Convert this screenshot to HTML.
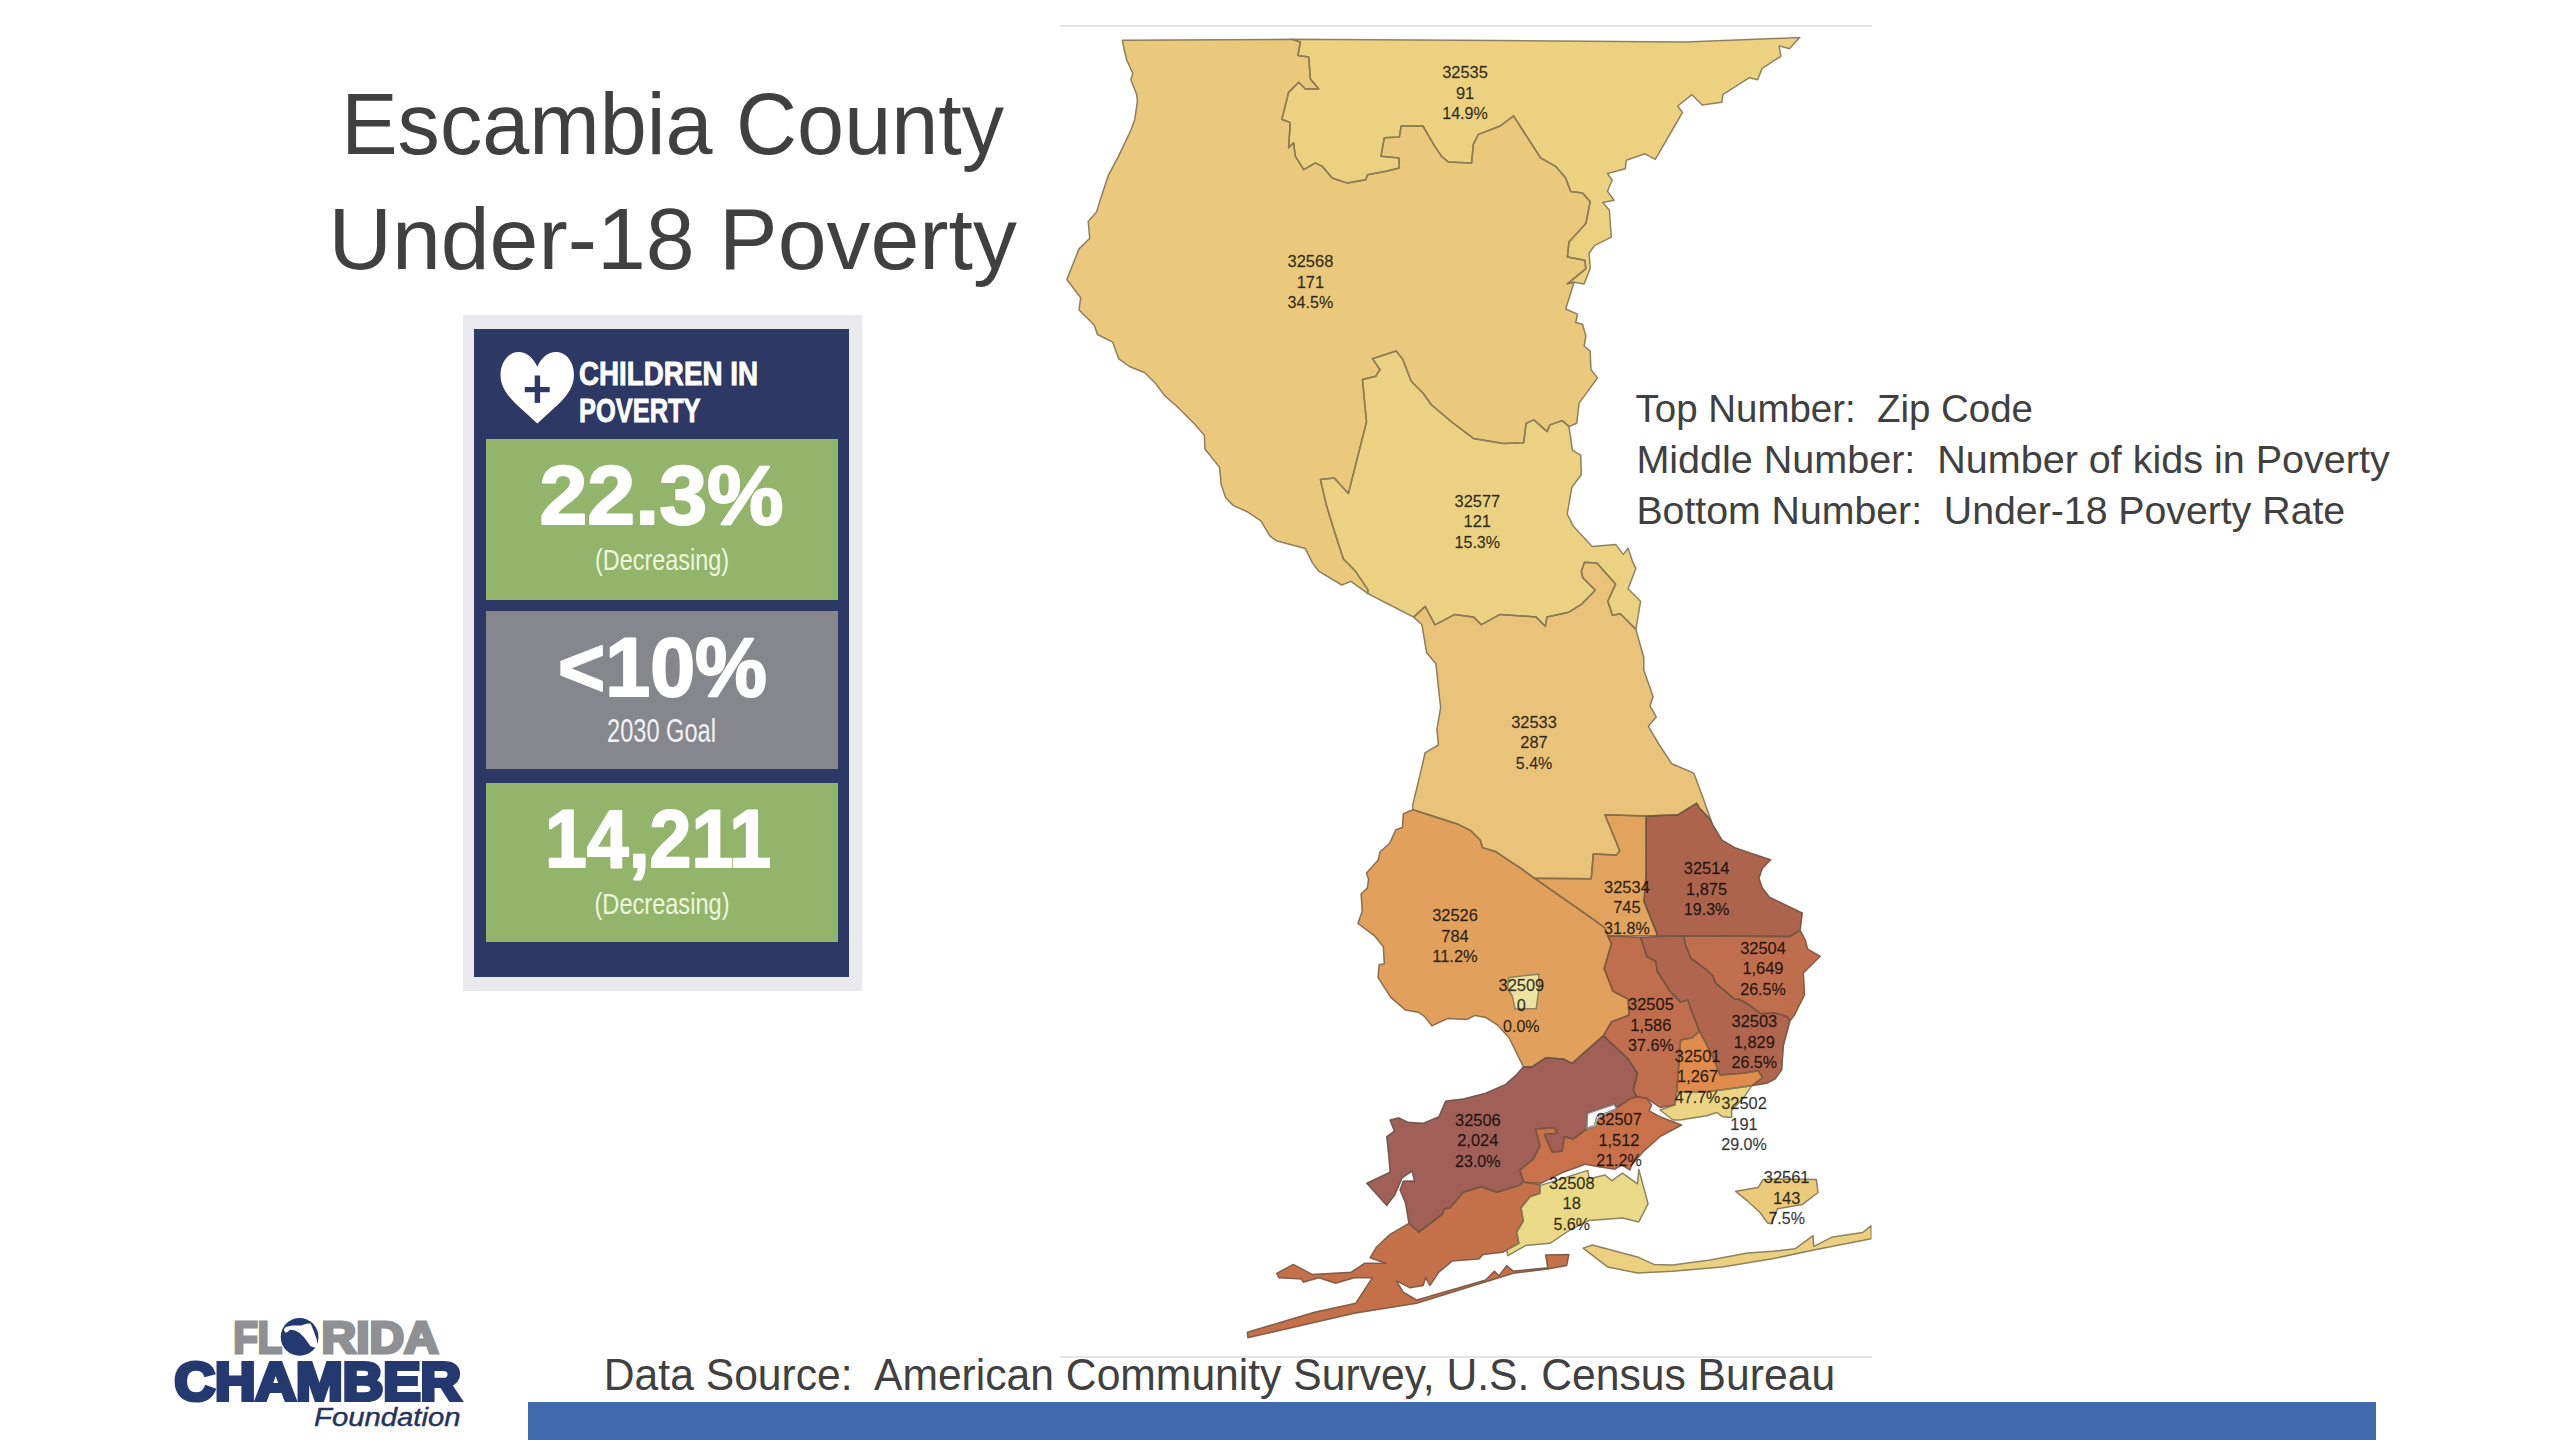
<!DOCTYPE html>
<html lang="en">
<head>
<meta charset="utf-8">
<title>Escambia County Under-18 Poverty</title>
<style>
  html, body { margin: 0; padding: 0; background: #ffffff; }
  body { width: 2560px; height: 1440px; position: relative; overflow: hidden;
         font-family: "Liberation Sans", sans-serif; }
  .abs { position: absolute; }
  .panel-outer { left: 463px; top: 315px; width: 399px; height: 676px; background: #eaeaee; }
  .panel-navy  { left: 474px; top: 329px; width: 375px; height: 648px; background: #2e3864; }
  .box { left: 486px; width: 352px; }
  .box.g1 { top: 439px; height: 161px; background: #92b56b; }
  .box.gr { top: 611px; height: 158px; background: #85878c; }
  .box.g2 { top: 783px; height: 159px; background: #92b56b; }
  .bluebar { left: 528px; top: 1402px; width: 1848px; height: 38px; background: #3f6bae; }
  .mapline { left: 1060px; width: 812px; height: 2px; background: #e4e4e4; }
  svg { position: absolute; left: 0; top: 0; }
  svg text { font-family: "Liberation Sans", sans-serif; }
  .maplabels text { font-size: 16.3px; fill: #000; fill-opacity: 0.78; stroke: #000; stroke-opacity: 0.5; stroke-width: 0.3px; }
  .map .fills polygon { stroke-width: 0.8; stroke-linejoin: round; }
  .map .outlines polygon { fill: none; stroke: #4b4437; stroke-width: 1.5; stroke-linejoin: round; }
</style>
</head>
<body>
<div class="abs panel-outer"></div>
<div class="abs panel-navy"></div>
<div class="abs box g1"></div>
<div class="abs box gr"></div>
<div class="abs box g2"></div>
<div class="abs mapline" style="top:25px"></div>
<div class="abs mapline" style="top:1356px"></div>
<div class="abs bluebar"></div>

<svg width="2560" height="1440" viewBox="0 0 2560 1440">
  <!-- title -->
  <g fill="#404040" font-size="88">
    <text x="341.2" y="154" textLength="662.8" lengthAdjust="spacingAndGlyphs">Escambia County</text>
    <text x="328.5" y="268.9" textLength="688.3" lengthAdjust="spacingAndGlyphs">Under-18 Poverty</text>
  </g>

  <!-- legend text -->
  <g fill="#404040" font-size="39.3">
    <text x="1635.6" y="422.3" textLength="397.4" lengthAdjust="spacingAndGlyphs" xml:space="preserve">Top Number:  Zip Code</text>
    <text x="1636.4" y="473.3" textLength="753.3" lengthAdjust="spacingAndGlyphs" xml:space="preserve">Middle Number:  Number of kids in Poverty</text>
    <text x="1636.4" y="524.4" textLength="708.8" lengthAdjust="spacingAndGlyphs" xml:space="preserve">Bottom Number:  Under-18 Poverty Rate</text>
  </g>

  <!-- footer source -->
  <text x="603.8" y="1389.6" font-size="44.5" fill="#404040" textLength="1231.3" lengthAdjust="spacingAndGlyphs" xml:space="preserve">Data Source:  American Community Survey, U.S. Census Bureau</text>

  <!-- panel header -->
  <g>
    <path d="M537.3,366.8 C541,358 548,352.1 556,352.1 C566,352.1 574,362 574,375 C574,388 565,399 552,410 L537.3,423.4 L522.6,410 C509.6,399 500.5,388 500.5,375 C500.5,362 508.5,352.1 518.5,352.1 C526.5,352.1 533.5,358 537.3,366.8 Z" fill="#ffffff"/>
    <rect x="524.8" y="387" width="24.9" height="5.2" fill="#2e3864"/>
    <rect x="534.7" y="375.5" width="5.4" height="27.4" fill="#2e3864"/>
    <g fill="#ffffff" font-weight="bold" font-size="33.2" stroke="#ffffff" stroke-width="0.9">
      <text x="579" y="384.8" textLength="179" lengthAdjust="spacingAndGlyphs">CHILDREN IN</text>
      <text x="579" y="422.4" textLength="121.5" lengthAdjust="spacingAndGlyphs">POVERTY</text>
    </g>
  </g>

  <!-- panel values -->
  <g fill="#ffffff" font-weight="bold" stroke="#ffffff" stroke-width="2" stroke-linejoin="round">
    <text x="539.5" y="524.3" font-size="83" textLength="244" lengthAdjust="spacingAndGlyphs">22.3%</text>
    <text x="558" y="695.8" font-size="83" textLength="209" lengthAdjust="spacingAndGlyphs">&lt;10%</text>
    <text x="545" y="867" font-size="81" textLength="226" lengthAdjust="spacingAndGlyphs">14,211</text>
  </g>
  <g fill="#eef6dc" font-size="29.5">
    <text x="595" y="570" textLength="134" lengthAdjust="spacingAndGlyphs">(Decreasing)</text>
    <text x="607" y="742.2" font-size="32.5" fill="#f2f2f4" textLength="109" lengthAdjust="spacingAndGlyphs">2030 Goal</text>
    <text x="594.5" y="914.4" textLength="135" lengthAdjust="spacingAndGlyphs">(Decreasing)</text>
  </g>

  <!-- map -->
  <defs><clipPath id="mapclip"><rect x="1060" y="25" width="811.5" height="1332"/></clipPath></defs>
  <g class="map" clip-path="url(#mapclip)">
<g class="fills">
<polygon points="1292.0,39.3 1500.0,40.5 1685.0,42.0 1799.8,37.6 1789.4,48.8 1779.1,45.9 1781.0,56.3 1762.2,68.4 1757.6,79.7 1749.1,77.8 1722.9,94.7 1721.9,102.2 1702.2,105.0 1691.9,94.7 1677.8,106.0 1682.5,112.5 1655.3,159.4 1645.0,153.8 1626.3,160.3 1625.3,168.8 1607.5,173.5 1612.2,180.0 1607.5,191.3 1614.1,200.3 1602.8,202.5 1609.4,210.0 1611.3,237.2 1594.4,245.7 1589.1,253.2 1590.3,268.2 1584.1,284.1 1574.1,282.2 1567.4,283.8 1585.9,268.7 1584.8,260.3 1567.4,257.0 1569.0,241.9 1585.9,223.4 1590.2,201.5 1582.5,193.1 1570.7,191.5 1565.7,178.0 1555.6,166.3 1540.5,157.9 1513.6,115.9 1500.2,126.0 1478.4,134.4 1473.3,144.4 1471.6,162.9 1448.1,161.9 1441.4,156.2 1434.7,146.1 1422.9,126.0 1401.1,126.0 1399.4,137.0 1384.3,137.7 1381.0,156.2 1398.8,157.9 1399.4,168.0 1386.0,171.3 1367.5,174.7 1365.8,179.7 1347.4,183.1 1332.2,178.0 1322.2,166.3 1315.4,162.9 1303.7,169.6 1295.3,156.2 1293.6,142.8 1288.6,147.8 1290.3,122.6 1281.9,119.2 1288.6,92.4 1298.7,82.3 1305.4,89.0 1318.8,89.0 1310.4,78.9 1308.7,57.1 1298.0,55.4 1300.3,42.0 1292.0,39.3" fill="#EDD181" stroke="#EDD181"/>
<polygon points="1122.3,40.3 1124.2,49.8 1126.8,60.3 1132.8,73.5 1130.8,79.5 1136.7,94.6 1137.4,101.2 1134.7,119.7 1130.8,130.3 1118.3,156.6 1108.4,175.1 1101.8,194.9 1096.5,212.1 1088.2,221.4 1089.7,238.2 1079.0,248.9 1066.8,279.5 1080.6,297.8 1079.0,310.0 1094.3,325.3 1097.4,334.5 1112.6,342.1 1118.8,358.9 1129.4,366.5 1144.7,372.7 1155.4,383.3 1164.6,395.6 1178.3,407.8 1193.6,423.1 1204.3,435.3 1204.9,449.0 1219.6,467.4 1221.1,484.2 1225.7,497.9 1233.3,505.6 1247.1,511.7 1260.8,520.9 1270.0,536.1 1276.1,540.7 1305.2,548.4 1312.8,563.6 1318.9,571.3 1341.8,585.0 1351.0,581.4 1367.8,593.6 1367.8,589.6 1355.6,571.3 1343.4,559.0 1334.0,530.0 1326.5,505.6 1320.4,479.6 1334.2,478.1 1348.4,493.4 1366.5,422.0 1362.5,379.6 1375.9,376.2 1379.9,369.5 1372.5,358.7 1396.1,351.0 1402.8,359.4 1411.2,381.3 1422.9,393.0 1431.3,404.8 1453.2,423.2 1473.3,438.4 1503.5,443.4 1523.7,442.7 1526.1,423.2 1533.8,419.9 1547.2,431.6 1549.9,424.9 1562.3,420.6 1569.0,426.6 1576.8,423.2 1579.1,403.1 1597.6,377.9 1590.9,369.5 1590.2,351.0 1584.2,346.0 1585.9,335.9 1582.5,324.2 1575.8,322.5 1577.5,314.1 1565.7,309.0 1574.1,282.2 1567.4,283.8 1585.9,268.7 1584.8,260.3 1567.4,257.0 1569.0,241.9 1585.9,223.4 1590.2,201.5 1582.5,193.1 1570.7,191.5 1565.7,178.0 1555.6,166.3 1540.5,157.9 1513.6,115.9 1500.2,126.0 1478.4,134.4 1473.3,144.4 1471.6,162.9 1448.1,161.9 1441.4,156.2 1434.7,146.1 1422.9,126.0 1401.1,126.0 1399.4,137.0 1384.3,137.7 1381.0,156.2 1398.8,157.9 1399.4,168.0 1386.0,171.3 1367.5,174.7 1365.8,179.7 1347.4,183.1 1332.2,178.0 1322.2,166.3 1315.4,162.9 1303.7,169.6 1295.3,156.2 1293.6,142.8 1288.6,147.8 1290.3,122.6 1281.9,119.2 1288.6,92.4 1298.7,82.3 1305.4,89.0 1318.8,89.0 1310.4,78.9 1308.7,57.1 1298.0,55.4 1300.3,42.0 1292.0,39.3" fill="#EAC87C" stroke="#EAC87C"/>
<polygon points="1569.0,426.6 1562.3,420.6 1549.9,424.9 1547.2,431.6 1533.8,419.9 1526.1,423.2 1523.7,442.7 1503.5,443.4 1473.3,438.4 1453.2,423.2 1431.3,404.8 1422.9,393.0 1411.2,381.3 1402.8,359.4 1396.1,351.0 1372.5,358.7 1379.9,369.5 1375.9,376.2 1362.5,379.6 1366.5,422.0 1348.4,493.4 1334.2,478.1 1320.4,479.6 1326.5,505.6 1334.0,530.0 1343.4,559.0 1355.6,571.3 1367.8,589.6 1367.8,593.6 1390.0,605.0 1413.6,617.1 1425.2,606.4 1435.0,624.8 1454.7,614.4 1473.4,616.9 1481.3,624.7 1500.0,614.4 1535.9,616.9 1545.3,626.3 1546.9,616.9 1568.8,612.2 1581.3,604.4 1595.3,590.3 1582.8,577.8 1581.3,571.6 1584.4,562.2 1596.9,563.1 1615.6,584.1 1607.8,601.3 1612.5,615.3 1620.3,613.8 1635.9,629.4 1640.6,601.3 1628.1,588.8 1635.9,568.4 1632.8,562.2 1628.1,548.1 1623.4,554.4 1615.6,544.4 1592.2,546.6 1573.4,526.3 1567.2,513.8 1571.9,487.2 1581.3,474.7 1580.8,455.2 1572.4,450.1 1569.0,426.6" fill="#EBD282" stroke="#EBD282"/>
<polygon points="1413.6,617.1 1425.2,606.4 1435.0,624.8 1454.7,614.4 1473.4,616.9 1481.3,624.7 1500.0,614.4 1535.9,616.9 1545.3,626.3 1546.9,616.9 1568.8,612.2 1581.3,604.4 1595.3,590.3 1582.8,577.8 1581.3,571.6 1584.4,562.2 1596.9,563.1 1615.6,584.1 1607.8,601.3 1612.5,615.3 1620.3,613.8 1635.9,629.4 1643.8,657.5 1643.8,670.0 1653.1,696.6 1650.0,705.9 1656.3,716.9 1648.4,726.3 1659.4,745.0 1671.9,763.8 1693.8,773.1 1703.1,798.1 1710.9,820.0 1698.9,807.4 1696.8,803.2 1686.2,809.6 1677.8,814.8 1646.1,815.9 1604.9,814.8 1619.7,850.7 1616.5,854.9 1593.3,853.9 1591.2,878.8 1534.2,878.2 1521.5,868.7 1506.8,859.2 1496.2,851.8 1482.5,847.6 1480.4,840.2 1470.9,830.7 1458.2,824.3 1428.7,814.8 1412.8,809.6 1412.5,805.9 1421.9,766.9 1425.0,752.8 1438.4,745.0 1436.9,729.4 1440.6,707.5 1435.9,663.8 1426.6,652.8 1421.9,624.7 1413.6,617.1" fill="#EAC37A" stroke="#EAC37A"/>
<polygon points="1412.8,809.6 1403.3,813.8 1402.3,827.5 1395.9,829.6 1389.6,843.3 1380.1,851.8 1378.0,860.2 1366.4,872.9 1368.5,879.2 1367.4,887.7 1361.1,894.0 1362.2,910.9 1357.9,923.5 1374.8,936.2 1383.3,946.8 1384.3,963.7 1379.1,964.7 1378.0,977.4 1383.3,985.8 1390.7,997.4 1405.4,1010.1 1418.1,1012.2 1424.4,1016.4 1431.8,1025.9 1447.7,1018.5 1466.7,1019.6 1475.1,1015.4 1485.7,1017.5 1497.3,1024.9 1508.9,1037.5 1523.3,1066.7 1532.2,1066.7 1545.6,1057.8 1563.3,1058.9 1572.2,1063.3 1603.3,1035.6 1611.4,1021.8 1628.9,1015.2 1628.1,999.2 1612.8,991.1 1604.1,968.5 1611.4,943.8 1607.7,935.7 1604.9,927.8 1593.3,919.3 1572.2,904.6 1551.1,889.8 1534.2,878.2 1521.5,868.7 1506.8,859.2 1496.2,851.8 1482.5,847.6 1480.4,840.2 1470.9,830.7 1458.2,824.3 1428.7,814.8 1412.8,809.6" fill="#E1A05C" stroke="#E1A05C"/>
<polygon points="1534.2,878.2 1591.2,878.8 1593.3,853.9 1616.5,854.9 1619.7,850.7 1604.9,814.8 1646.1,815.9 1646.1,875.0 1644.0,901.4 1656.7,933.1 1656.7,935.8 1644.0,935.8 1607.7,935.7 1604.9,927.8 1593.3,919.3 1572.2,904.6 1551.1,889.8 1534.2,878.2" fill="#E1A35E" stroke="#E1A35E"/>
<polygon points="1646.1,815.9 1677.8,814.8 1686.2,809.6 1696.8,803.2 1698.9,807.4 1710.9,820.0 1712.6,824.3 1722.1,840.2 1734.8,847.6 1749.5,852.8 1770.7,859.8 1762.2,868.7 1759.0,878.2 1762.2,887.7 1769.6,897.2 1802.3,913.0 1800.2,929.9 1789.7,936.6 1656.7,935.8 1656.7,933.1 1644.0,901.4 1646.1,875.0" fill="#AC644D" stroke="#AC644D"/>
<polygon points="1683.5,935.7 1789.7,936.6 1800.2,930.3 1805.5,940.4 1807.6,948.9 1820.3,956.3 1803.4,973.0 1804.6,994.8 1794.4,1015.2 1790.0,1021.0 1787.1,1016.7 1775.4,1013.0 1760.8,1013.8 1749.2,1005.0 1739.0,999.2 1734.6,999.2 1724.4,990.4 1715.6,983.1 1712.7,975.8 1708.3,971.5 1701.0,965.6 1690.8,958.3 1685.7,945.2 1683.5,935.7" fill="#BF6E4E" stroke="#BF6E4E"/>
<polygon points="1640.5,937.2 1683.5,935.7 1685.7,945.2 1690.8,958.3 1701.0,965.6 1708.3,971.5 1712.7,975.8 1715.6,983.1 1724.4,990.4 1734.6,999.2 1739.0,999.2 1749.2,1005.0 1760.8,1013.8 1775.4,1013.0 1787.1,1016.7 1790.0,1021.0 1783.4,1045.8 1781.7,1070.0 1775.0,1079.2 1766.7,1083.3 1751.7,1085.8 1762.5,1077.5 1758.3,1070.8 1743.3,1073.3 1720.0,1075.0 1715.0,1061.7 1706.7,1045.0 1699.6,1031.3 1690.8,1009.4 1687.9,999.9 1680.6,1002.1 1670.4,991.9 1657.3,971.5 1655.8,961.3 1647.1,956.9 1640.5,937.2" fill="#B0664E" stroke="#B0664E"/>
<polygon points="1607.7,935.7 1640.5,937.2 1647.1,956.9 1655.8,961.3 1657.3,971.5 1670.4,991.9 1680.6,1002.1 1687.9,999.9 1690.8,1009.4 1699.6,1031.3 1692.3,1037.8 1680.6,1040.0 1679.2,1060.4 1676.7,1092.0 1675.0,1105.0 1660.0,1107.5 1646.7,1098.3 1636.7,1096.7 1633.3,1090.0 1637.5,1073.3 1628.1,1059.0 1603.3,1035.6 1611.4,1021.8 1628.9,1015.2 1628.1,999.2 1612.8,991.1 1604.1,968.5 1611.4,943.8 1607.7,935.7" fill="#BF6E4E" stroke="#BF6E4E"/>
<polygon points="1680.6,1040.0 1692.3,1037.8 1699.6,1031.3 1706.7,1045.0 1715.0,1061.7 1720.0,1075.0 1743.3,1073.3 1758.3,1070.8 1762.5,1077.5 1751.7,1085.8 1726.7,1089.2 1706.7,1091.7 1676.7,1092.0 1679.2,1060.4" fill="#DF8C4C" stroke="#DF8C4C"/>
<polygon points="1676.7,1092.0 1706.7,1091.7 1726.7,1089.2 1751.7,1085.8 1743.3,1098.3 1731.7,1110.0 1731.7,1117.5 1722.5,1116.7 1716.7,1112.5 1706.7,1115.8 1680.0,1120.0 1673.0,1120.0 1660.0,1110.0 1675.0,1105.0" fill="#EBD484" stroke="#EBD484"/>
<polygon points="1603.3,1035.6 1628.1,1059.0 1637.5,1073.3 1633.3,1090.0 1636.7,1096.7 1630.0,1098.9 1616.7,1107.8 1614.2,1104.2 1587.5,1113.3 1586.7,1128.7 1585.6,1130.0 1573.3,1138.9 1564.4,1136.7 1562.2,1151.1 1552.2,1152.2 1544.4,1134.4 1557.8,1133.3 1554.4,1127.8 1535.6,1128.9 1540.0,1145.6 1533.3,1158.9 1520.0,1170.0 1523.3,1181.1 1518.9,1185.6 1496.7,1192.2 1481.1,1186.7 1463.3,1192.2 1450.0,1207.8 1444.4,1208.9 1442.2,1214.4 1418.9,1232.2 1408.9,1223.3 1405.6,1203.3 1400.0,1190.0 1403.3,1181.1 1414.4,1181.1 1412.2,1171.1 1402.2,1177.8 1398.9,1185.6 1394.4,1195.6 1386.7,1205.6 1366.7,1183.3 1390.0,1172.2 1388.9,1156.7 1386.7,1136.7 1394.4,1131.1 1390.0,1120.0 1398.9,1117.8 1407.8,1122.2 1423.3,1123.3 1438.9,1116.7 1445.6,1101.1 1463.3,1098.9 1485.6,1093.3 1505.6,1084.4 1516.7,1074.4 1523.3,1066.7 1532.2,1066.7 1545.6,1057.8 1563.3,1058.9 1572.2,1063.3 1603.3,1035.6" fill="#A16057" stroke="#A16057"/>
<polygon points="1636.7,1096.7 1646.7,1098.3 1651.7,1105.0 1649.2,1110.8 1660.0,1116.7 1681.7,1125.0 1660.0,1136.7 1643.3,1151.7 1631.7,1165.0 1630.0,1170.0 1621.7,1165.0 1615.0,1169.2 1598.3,1166.7 1585.0,1164.2 1576.7,1167.5 1563.3,1172.2 1541.1,1183.3 1523.3,1182.2 1520.0,1170.0 1533.3,1158.9 1540.0,1145.6 1535.6,1128.9 1554.4,1127.8 1557.8,1133.3 1544.4,1134.4 1552.2,1152.2 1562.2,1151.1 1564.4,1136.7 1573.3,1138.9 1585.6,1130.0 1587.8,1127.8 1594.4,1125.6 1596.7,1116.7 1615.6,1108.9 1616.7,1107.8 1630.0,1098.9" fill="#C8714A" stroke="#C8714A"/>
<polygon points="1418.9,1232.2 1442.2,1214.4 1444.4,1208.9 1450.0,1207.8 1463.3,1192.2 1481.1,1186.7 1496.7,1192.2 1518.9,1185.6 1523.3,1182.2 1540.0,1184.4 1540.0,1193.3 1530.0,1196.7 1521.1,1207.8 1523.3,1221.1 1516.7,1232.2 1518.9,1243.3 1506.7,1250.0 1503.3,1252.2 1483.3,1254.4 1478.9,1258.9 1452.2,1261.1 1438.9,1272.2 1430.0,1285.6 1425.6,1277.8 1423.3,1285.6 1410.0,1287.8 1396.7,1281.1 1403.3,1292.2 1416.7,1300.0 1485.6,1280.0 1494.4,1271.1 1498.9,1275.6 1506.7,1265.6 1513.3,1271.1 1547.8,1267.8 1545.6,1254.9 1568.9,1254.4 1566.7,1265.6 1547.8,1269.0 1513.3,1273.3 1416.7,1303.3 1354.4,1313.3 1247.8,1337.8 1247.3,1332.2 1314.4,1312.2 1355.6,1303.3 1372.2,1277.8 1354.4,1277.8 1335.6,1283.3 1318.9,1277.8 1303.3,1282.2 1301.1,1278.9 1278.9,1277.8 1276.7,1273.3 1293.3,1264.4 1312.2,1274.4 1351.1,1272.2 1364.4,1263.3 1385.6,1263.3 1370.0,1257.8 1376.7,1246.7 1390.0,1234.4 1408.9,1223.3" fill="#C4704A" stroke="#C4704A"/>
<polygon points="1540.0,1185.6 1587.8,1170.4 1589.4,1178.8 1605.0,1175.0 1611.9,1180.6 1622.5,1173.1 1637.5,1183.8 1638.8,1169.4 1648.1,1203.8 1638.8,1221.9 1622.5,1218.1 1588.8,1220.6 1570.0,1230.0 1550.0,1243.3 1525.6,1245.6 1507.8,1255.6 1506.7,1250.0 1518.9,1243.3 1516.7,1232.2 1523.3,1221.1 1521.1,1207.8 1530.0,1196.7 1540.0,1193.3" fill="#EAD986" stroke="#EAD986"/>
<polygon points="1735.6,1191.3 1758.1,1187.5 1763.1,1179.4 1777.5,1179.0 1816.3,1179.4 1818.1,1192.5 1802.5,1204.4 1777.5,1208.8 1771.3,1223.8 1767.5,1223.1 1760.0,1212.5 1748.3,1201.7" fill="#EBCB7A" stroke="#EBCB7A"/>
<polygon points="1583.1,1248.1 1592.5,1245.0 1637.5,1256.9 1653.8,1264.4 1672.5,1265.0 1710.0,1260.0 1747.5,1253.1 1772.5,1251.3 1795.0,1248.8 1813.1,1235.6 1813.8,1246.3 1832.5,1236.9 1862.5,1232.5 1871.3,1225.6 1871.3,1238.8 1813.8,1250.0 1772.5,1258.8 1722.5,1266.9 1672.5,1271.3 1637.5,1273.1 1607.5,1266.9" fill="#EBD080" stroke="#EBD080"/>
<polygon points="1508.9,977.4 1538.4,974.2 1539.5,983.7 1536.3,1008.4 1515.2,1009.1 1512.1,995.3 1507.8,989.0" fill="#ECE4A0" stroke="#ECE4A0"/>
<polygon points="1587.5,1113.3 1614.2,1104.2 1616.7,1109.2 1598.3,1118.3 1595.8,1126.7 1586.7,1128.7" fill="#ffffff" stroke="#ffffff"/>
</g>
<g class="outlines" opacity="0.58">
<polygon points="1292.0,39.3 1500.0,40.5 1685.0,42.0 1799.8,37.6 1789.4,48.8 1779.1,45.9 1781.0,56.3 1762.2,68.4 1757.6,79.7 1749.1,77.8 1722.9,94.7 1721.9,102.2 1702.2,105.0 1691.9,94.7 1677.8,106.0 1682.5,112.5 1655.3,159.4 1645.0,153.8 1626.3,160.3 1625.3,168.8 1607.5,173.5 1612.2,180.0 1607.5,191.3 1614.1,200.3 1602.8,202.5 1609.4,210.0 1611.3,237.2 1594.4,245.7 1589.1,253.2 1590.3,268.2 1584.1,284.1 1574.1,282.2 1567.4,283.8 1585.9,268.7 1584.8,260.3 1567.4,257.0 1569.0,241.9 1585.9,223.4 1590.2,201.5 1582.5,193.1 1570.7,191.5 1565.7,178.0 1555.6,166.3 1540.5,157.9 1513.6,115.9 1500.2,126.0 1478.4,134.4 1473.3,144.4 1471.6,162.9 1448.1,161.9 1441.4,156.2 1434.7,146.1 1422.9,126.0 1401.1,126.0 1399.4,137.0 1384.3,137.7 1381.0,156.2 1398.8,157.9 1399.4,168.0 1386.0,171.3 1367.5,174.7 1365.8,179.7 1347.4,183.1 1332.2,178.0 1322.2,166.3 1315.4,162.9 1303.7,169.6 1295.3,156.2 1293.6,142.8 1288.6,147.8 1290.3,122.6 1281.9,119.2 1288.6,92.4 1298.7,82.3 1305.4,89.0 1318.8,89.0 1310.4,78.9 1308.7,57.1 1298.0,55.4 1300.3,42.0 1292.0,39.3"/>
<polygon points="1122.3,40.3 1124.2,49.8 1126.8,60.3 1132.8,73.5 1130.8,79.5 1136.7,94.6 1137.4,101.2 1134.7,119.7 1130.8,130.3 1118.3,156.6 1108.4,175.1 1101.8,194.9 1096.5,212.1 1088.2,221.4 1089.7,238.2 1079.0,248.9 1066.8,279.5 1080.6,297.8 1079.0,310.0 1094.3,325.3 1097.4,334.5 1112.6,342.1 1118.8,358.9 1129.4,366.5 1144.7,372.7 1155.4,383.3 1164.6,395.6 1178.3,407.8 1193.6,423.1 1204.3,435.3 1204.9,449.0 1219.6,467.4 1221.1,484.2 1225.7,497.9 1233.3,505.6 1247.1,511.7 1260.8,520.9 1270.0,536.1 1276.1,540.7 1305.2,548.4 1312.8,563.6 1318.9,571.3 1341.8,585.0 1351.0,581.4 1367.8,593.6 1367.8,589.6 1355.6,571.3 1343.4,559.0 1334.0,530.0 1326.5,505.6 1320.4,479.6 1334.2,478.1 1348.4,493.4 1366.5,422.0 1362.5,379.6 1375.9,376.2 1379.9,369.5 1372.5,358.7 1396.1,351.0 1402.8,359.4 1411.2,381.3 1422.9,393.0 1431.3,404.8 1453.2,423.2 1473.3,438.4 1503.5,443.4 1523.7,442.7 1526.1,423.2 1533.8,419.9 1547.2,431.6 1549.9,424.9 1562.3,420.6 1569.0,426.6 1576.8,423.2 1579.1,403.1 1597.6,377.9 1590.9,369.5 1590.2,351.0 1584.2,346.0 1585.9,335.9 1582.5,324.2 1575.8,322.5 1577.5,314.1 1565.7,309.0 1574.1,282.2 1567.4,283.8 1585.9,268.7 1584.8,260.3 1567.4,257.0 1569.0,241.9 1585.9,223.4 1590.2,201.5 1582.5,193.1 1570.7,191.5 1565.7,178.0 1555.6,166.3 1540.5,157.9 1513.6,115.9 1500.2,126.0 1478.4,134.4 1473.3,144.4 1471.6,162.9 1448.1,161.9 1441.4,156.2 1434.7,146.1 1422.9,126.0 1401.1,126.0 1399.4,137.0 1384.3,137.7 1381.0,156.2 1398.8,157.9 1399.4,168.0 1386.0,171.3 1367.5,174.7 1365.8,179.7 1347.4,183.1 1332.2,178.0 1322.2,166.3 1315.4,162.9 1303.7,169.6 1295.3,156.2 1293.6,142.8 1288.6,147.8 1290.3,122.6 1281.9,119.2 1288.6,92.4 1298.7,82.3 1305.4,89.0 1318.8,89.0 1310.4,78.9 1308.7,57.1 1298.0,55.4 1300.3,42.0 1292.0,39.3"/>
<polygon points="1569.0,426.6 1562.3,420.6 1549.9,424.9 1547.2,431.6 1533.8,419.9 1526.1,423.2 1523.7,442.7 1503.5,443.4 1473.3,438.4 1453.2,423.2 1431.3,404.8 1422.9,393.0 1411.2,381.3 1402.8,359.4 1396.1,351.0 1372.5,358.7 1379.9,369.5 1375.9,376.2 1362.5,379.6 1366.5,422.0 1348.4,493.4 1334.2,478.1 1320.4,479.6 1326.5,505.6 1334.0,530.0 1343.4,559.0 1355.6,571.3 1367.8,589.6 1367.8,593.6 1390.0,605.0 1413.6,617.1 1425.2,606.4 1435.0,624.8 1454.7,614.4 1473.4,616.9 1481.3,624.7 1500.0,614.4 1535.9,616.9 1545.3,626.3 1546.9,616.9 1568.8,612.2 1581.3,604.4 1595.3,590.3 1582.8,577.8 1581.3,571.6 1584.4,562.2 1596.9,563.1 1615.6,584.1 1607.8,601.3 1612.5,615.3 1620.3,613.8 1635.9,629.4 1640.6,601.3 1628.1,588.8 1635.9,568.4 1632.8,562.2 1628.1,548.1 1623.4,554.4 1615.6,544.4 1592.2,546.6 1573.4,526.3 1567.2,513.8 1571.9,487.2 1581.3,474.7 1580.8,455.2 1572.4,450.1 1569.0,426.6"/>
<polygon points="1413.6,617.1 1425.2,606.4 1435.0,624.8 1454.7,614.4 1473.4,616.9 1481.3,624.7 1500.0,614.4 1535.9,616.9 1545.3,626.3 1546.9,616.9 1568.8,612.2 1581.3,604.4 1595.3,590.3 1582.8,577.8 1581.3,571.6 1584.4,562.2 1596.9,563.1 1615.6,584.1 1607.8,601.3 1612.5,615.3 1620.3,613.8 1635.9,629.4 1643.8,657.5 1643.8,670.0 1653.1,696.6 1650.0,705.9 1656.3,716.9 1648.4,726.3 1659.4,745.0 1671.9,763.8 1693.8,773.1 1703.1,798.1 1710.9,820.0 1698.9,807.4 1696.8,803.2 1686.2,809.6 1677.8,814.8 1646.1,815.9 1604.9,814.8 1619.7,850.7 1616.5,854.9 1593.3,853.9 1591.2,878.8 1534.2,878.2 1521.5,868.7 1506.8,859.2 1496.2,851.8 1482.5,847.6 1480.4,840.2 1470.9,830.7 1458.2,824.3 1428.7,814.8 1412.8,809.6 1412.5,805.9 1421.9,766.9 1425.0,752.8 1438.4,745.0 1436.9,729.4 1440.6,707.5 1435.9,663.8 1426.6,652.8 1421.9,624.7 1413.6,617.1"/>
<polygon points="1412.8,809.6 1403.3,813.8 1402.3,827.5 1395.9,829.6 1389.6,843.3 1380.1,851.8 1378.0,860.2 1366.4,872.9 1368.5,879.2 1367.4,887.7 1361.1,894.0 1362.2,910.9 1357.9,923.5 1374.8,936.2 1383.3,946.8 1384.3,963.7 1379.1,964.7 1378.0,977.4 1383.3,985.8 1390.7,997.4 1405.4,1010.1 1418.1,1012.2 1424.4,1016.4 1431.8,1025.9 1447.7,1018.5 1466.7,1019.6 1475.1,1015.4 1485.7,1017.5 1497.3,1024.9 1508.9,1037.5 1523.3,1066.7 1532.2,1066.7 1545.6,1057.8 1563.3,1058.9 1572.2,1063.3 1603.3,1035.6 1611.4,1021.8 1628.9,1015.2 1628.1,999.2 1612.8,991.1 1604.1,968.5 1611.4,943.8 1607.7,935.7 1604.9,927.8 1593.3,919.3 1572.2,904.6 1551.1,889.8 1534.2,878.2 1521.5,868.7 1506.8,859.2 1496.2,851.8 1482.5,847.6 1480.4,840.2 1470.9,830.7 1458.2,824.3 1428.7,814.8 1412.8,809.6"/>
<polygon points="1534.2,878.2 1591.2,878.8 1593.3,853.9 1616.5,854.9 1619.7,850.7 1604.9,814.8 1646.1,815.9 1646.1,875.0 1644.0,901.4 1656.7,933.1 1656.7,935.8 1644.0,935.8 1607.7,935.7 1604.9,927.8 1593.3,919.3 1572.2,904.6 1551.1,889.8 1534.2,878.2"/>
<polygon points="1646.1,815.9 1677.8,814.8 1686.2,809.6 1696.8,803.2 1698.9,807.4 1710.9,820.0 1712.6,824.3 1722.1,840.2 1734.8,847.6 1749.5,852.8 1770.7,859.8 1762.2,868.7 1759.0,878.2 1762.2,887.7 1769.6,897.2 1802.3,913.0 1800.2,929.9 1789.7,936.6 1656.7,935.8 1656.7,933.1 1644.0,901.4 1646.1,875.0"/>
<polygon points="1683.5,935.7 1789.7,936.6 1800.2,930.3 1805.5,940.4 1807.6,948.9 1820.3,956.3 1803.4,973.0 1804.6,994.8 1794.4,1015.2 1790.0,1021.0 1787.1,1016.7 1775.4,1013.0 1760.8,1013.8 1749.2,1005.0 1739.0,999.2 1734.6,999.2 1724.4,990.4 1715.6,983.1 1712.7,975.8 1708.3,971.5 1701.0,965.6 1690.8,958.3 1685.7,945.2 1683.5,935.7"/>
<polygon points="1640.5,937.2 1683.5,935.7 1685.7,945.2 1690.8,958.3 1701.0,965.6 1708.3,971.5 1712.7,975.8 1715.6,983.1 1724.4,990.4 1734.6,999.2 1739.0,999.2 1749.2,1005.0 1760.8,1013.8 1775.4,1013.0 1787.1,1016.7 1790.0,1021.0 1783.4,1045.8 1781.7,1070.0 1775.0,1079.2 1766.7,1083.3 1751.7,1085.8 1762.5,1077.5 1758.3,1070.8 1743.3,1073.3 1720.0,1075.0 1715.0,1061.7 1706.7,1045.0 1699.6,1031.3 1690.8,1009.4 1687.9,999.9 1680.6,1002.1 1670.4,991.9 1657.3,971.5 1655.8,961.3 1647.1,956.9 1640.5,937.2"/>
<polygon points="1607.7,935.7 1640.5,937.2 1647.1,956.9 1655.8,961.3 1657.3,971.5 1670.4,991.9 1680.6,1002.1 1687.9,999.9 1690.8,1009.4 1699.6,1031.3 1692.3,1037.8 1680.6,1040.0 1679.2,1060.4 1676.7,1092.0 1675.0,1105.0 1660.0,1107.5 1646.7,1098.3 1636.7,1096.7 1633.3,1090.0 1637.5,1073.3 1628.1,1059.0 1603.3,1035.6 1611.4,1021.8 1628.9,1015.2 1628.1,999.2 1612.8,991.1 1604.1,968.5 1611.4,943.8 1607.7,935.7"/>
<polygon points="1680.6,1040.0 1692.3,1037.8 1699.6,1031.3 1706.7,1045.0 1715.0,1061.7 1720.0,1075.0 1743.3,1073.3 1758.3,1070.8 1762.5,1077.5 1751.7,1085.8 1726.7,1089.2 1706.7,1091.7 1676.7,1092.0 1679.2,1060.4"/>
<polygon points="1676.7,1092.0 1706.7,1091.7 1726.7,1089.2 1751.7,1085.8 1743.3,1098.3 1731.7,1110.0 1731.7,1117.5 1722.5,1116.7 1716.7,1112.5 1706.7,1115.8 1680.0,1120.0 1673.0,1120.0 1660.0,1110.0 1675.0,1105.0"/>
<polygon points="1603.3,1035.6 1628.1,1059.0 1637.5,1073.3 1633.3,1090.0 1636.7,1096.7 1630.0,1098.9 1616.7,1107.8 1614.2,1104.2 1587.5,1113.3 1586.7,1128.7 1585.6,1130.0 1573.3,1138.9 1564.4,1136.7 1562.2,1151.1 1552.2,1152.2 1544.4,1134.4 1557.8,1133.3 1554.4,1127.8 1535.6,1128.9 1540.0,1145.6 1533.3,1158.9 1520.0,1170.0 1523.3,1181.1 1518.9,1185.6 1496.7,1192.2 1481.1,1186.7 1463.3,1192.2 1450.0,1207.8 1444.4,1208.9 1442.2,1214.4 1418.9,1232.2 1408.9,1223.3 1405.6,1203.3 1400.0,1190.0 1403.3,1181.1 1414.4,1181.1 1412.2,1171.1 1402.2,1177.8 1398.9,1185.6 1394.4,1195.6 1386.7,1205.6 1366.7,1183.3 1390.0,1172.2 1388.9,1156.7 1386.7,1136.7 1394.4,1131.1 1390.0,1120.0 1398.9,1117.8 1407.8,1122.2 1423.3,1123.3 1438.9,1116.7 1445.6,1101.1 1463.3,1098.9 1485.6,1093.3 1505.6,1084.4 1516.7,1074.4 1523.3,1066.7 1532.2,1066.7 1545.6,1057.8 1563.3,1058.9 1572.2,1063.3 1603.3,1035.6"/>
<polygon points="1636.7,1096.7 1646.7,1098.3 1651.7,1105.0 1649.2,1110.8 1660.0,1116.7 1681.7,1125.0 1660.0,1136.7 1643.3,1151.7 1631.7,1165.0 1630.0,1170.0 1621.7,1165.0 1615.0,1169.2 1598.3,1166.7 1585.0,1164.2 1576.7,1167.5 1563.3,1172.2 1541.1,1183.3 1523.3,1182.2 1520.0,1170.0 1533.3,1158.9 1540.0,1145.6 1535.6,1128.9 1554.4,1127.8 1557.8,1133.3 1544.4,1134.4 1552.2,1152.2 1562.2,1151.1 1564.4,1136.7 1573.3,1138.9 1585.6,1130.0 1587.8,1127.8 1594.4,1125.6 1596.7,1116.7 1615.6,1108.9 1616.7,1107.8 1630.0,1098.9"/>
<polygon points="1418.9,1232.2 1442.2,1214.4 1444.4,1208.9 1450.0,1207.8 1463.3,1192.2 1481.1,1186.7 1496.7,1192.2 1518.9,1185.6 1523.3,1182.2 1540.0,1184.4 1540.0,1193.3 1530.0,1196.7 1521.1,1207.8 1523.3,1221.1 1516.7,1232.2 1518.9,1243.3 1506.7,1250.0 1503.3,1252.2 1483.3,1254.4 1478.9,1258.9 1452.2,1261.1 1438.9,1272.2 1430.0,1285.6 1425.6,1277.8 1423.3,1285.6 1410.0,1287.8 1396.7,1281.1 1403.3,1292.2 1416.7,1300.0 1485.6,1280.0 1494.4,1271.1 1498.9,1275.6 1506.7,1265.6 1513.3,1271.1 1547.8,1267.8 1545.6,1254.9 1568.9,1254.4 1566.7,1265.6 1547.8,1269.0 1513.3,1273.3 1416.7,1303.3 1354.4,1313.3 1247.8,1337.8 1247.3,1332.2 1314.4,1312.2 1355.6,1303.3 1372.2,1277.8 1354.4,1277.8 1335.6,1283.3 1318.9,1277.8 1303.3,1282.2 1301.1,1278.9 1278.9,1277.8 1276.7,1273.3 1293.3,1264.4 1312.2,1274.4 1351.1,1272.2 1364.4,1263.3 1385.6,1263.3 1370.0,1257.8 1376.7,1246.7 1390.0,1234.4 1408.9,1223.3"/>
<polygon points="1540.0,1185.6 1587.8,1170.4 1589.4,1178.8 1605.0,1175.0 1611.9,1180.6 1622.5,1173.1 1637.5,1183.8 1638.8,1169.4 1648.1,1203.8 1638.8,1221.9 1622.5,1218.1 1588.8,1220.6 1570.0,1230.0 1550.0,1243.3 1525.6,1245.6 1507.8,1255.6 1506.7,1250.0 1518.9,1243.3 1516.7,1232.2 1523.3,1221.1 1521.1,1207.8 1530.0,1196.7 1540.0,1193.3"/>
<polygon points="1735.6,1191.3 1758.1,1187.5 1763.1,1179.4 1777.5,1179.0 1816.3,1179.4 1818.1,1192.5 1802.5,1204.4 1777.5,1208.8 1771.3,1223.8 1767.5,1223.1 1760.0,1212.5 1748.3,1201.7"/>
<polygon points="1583.1,1248.1 1592.5,1245.0 1637.5,1256.9 1653.8,1264.4 1672.5,1265.0 1710.0,1260.0 1747.5,1253.1 1772.5,1251.3 1795.0,1248.8 1813.1,1235.6 1813.8,1246.3 1832.5,1236.9 1862.5,1232.5 1871.3,1225.6 1871.3,1238.8 1813.8,1250.0 1772.5,1258.8 1722.5,1266.9 1672.5,1271.3 1637.5,1273.1 1607.5,1266.9"/>
<polygon points="1508.9,977.4 1538.4,974.2 1539.5,983.7 1536.3,1008.4 1515.2,1009.1 1512.1,995.3 1507.8,989.0"/>
<polygon points="1587.5,1113.3 1614.2,1104.2 1616.7,1109.2 1598.3,1118.3 1595.8,1126.7 1586.7,1128.7"/>
</g>
  </g>
  <g class="maplabels">
<text x="1442.2" y="78.0" textLength="45.7" lengthAdjust="spacingAndGlyphs">32535</text>
<text x="1455.9" y="98.5" textLength="18.3" lengthAdjust="spacingAndGlyphs">91</text>
<text x="1442.2" y="119.0" textLength="45.6" lengthAdjust="spacingAndGlyphs">14.9%</text>
<text x="1287.6" y="267.0" textLength="45.7" lengthAdjust="spacingAndGlyphs">32568</text>
<text x="1296.7" y="287.5" textLength="27.4" lengthAdjust="spacingAndGlyphs">171</text>
<text x="1287.6" y="308.0" textLength="45.6" lengthAdjust="spacingAndGlyphs">34.5%</text>
<text x="1454.5" y="506.6" textLength="45.7" lengthAdjust="spacingAndGlyphs">32577</text>
<text x="1463.6" y="527.1" textLength="27.4" lengthAdjust="spacingAndGlyphs">121</text>
<text x="1454.5" y="547.6" textLength="45.6" lengthAdjust="spacingAndGlyphs">15.3%</text>
<text x="1511.2" y="727.8" textLength="45.7" lengthAdjust="spacingAndGlyphs">32533</text>
<text x="1520.3" y="748.3" textLength="27.4" lengthAdjust="spacingAndGlyphs">287</text>
<text x="1515.8" y="768.8" textLength="36.5" lengthAdjust="spacingAndGlyphs">5.4%</text>
<text x="1432.2" y="921.0" textLength="45.7" lengthAdjust="spacingAndGlyphs">32526</text>
<text x="1441.3" y="941.5" textLength="27.4" lengthAdjust="spacingAndGlyphs">784</text>
<text x="1432.2" y="962.0" textLength="45.6" lengthAdjust="spacingAndGlyphs">11.2%</text>
<text x="1498.5" y="990.7" textLength="45.7" lengthAdjust="spacingAndGlyphs">32509</text>
<text x="1516.7" y="1011.2" textLength="9.1" lengthAdjust="spacingAndGlyphs">0</text>
<text x="1503.1" y="1031.7" textLength="36.5" lengthAdjust="spacingAndGlyphs">0.0%</text>
<text x="1604.1" y="892.5" textLength="45.7" lengthAdjust="spacingAndGlyphs">32534</text>
<text x="1613.2" y="913.0" textLength="27.4" lengthAdjust="spacingAndGlyphs">745</text>
<text x="1604.1" y="933.5" textLength="45.6" lengthAdjust="spacingAndGlyphs">31.8%</text>
<text x="1683.8" y="874.0" textLength="45.7" lengthAdjust="spacingAndGlyphs">32514</text>
<text x="1686.0" y="894.5" textLength="41.1" lengthAdjust="spacingAndGlyphs">1,875</text>
<text x="1683.8" y="915.0" textLength="45.6" lengthAdjust="spacingAndGlyphs">19.3%</text>
<text x="1740.2" y="953.5" textLength="45.7" lengthAdjust="spacingAndGlyphs">32504</text>
<text x="1742.4" y="974.0" textLength="41.1" lengthAdjust="spacingAndGlyphs">1,649</text>
<text x="1740.2" y="994.5" textLength="45.6" lengthAdjust="spacingAndGlyphs">26.5%</text>
<text x="1628.1" y="1010.1" textLength="45.7" lengthAdjust="spacingAndGlyphs">32505</text>
<text x="1630.3" y="1030.6" textLength="41.1" lengthAdjust="spacingAndGlyphs">1,586</text>
<text x="1628.1" y="1051.1" textLength="45.6" lengthAdjust="spacingAndGlyphs">37.6%</text>
<text x="1731.5" y="1027.4" textLength="45.7" lengthAdjust="spacingAndGlyphs">32503</text>
<text x="1733.7" y="1047.9" textLength="41.1" lengthAdjust="spacingAndGlyphs">1,829</text>
<text x="1731.5" y="1068.4" textLength="45.6" lengthAdjust="spacingAndGlyphs">26.5%</text>
<text x="1674.8" y="1061.8" textLength="45.7" lengthAdjust="spacingAndGlyphs">32501</text>
<text x="1677.0" y="1082.3" textLength="41.1" lengthAdjust="spacingAndGlyphs">1,267</text>
<text x="1674.8" y="1102.8" textLength="45.6" lengthAdjust="spacingAndGlyphs">47.7%</text>
<text x="1721.2" y="1109.2" textLength="45.7" lengthAdjust="spacingAndGlyphs">32502</text>
<text x="1730.3" y="1129.7" textLength="27.4" lengthAdjust="spacingAndGlyphs">191</text>
<text x="1721.2" y="1150.2" textLength="45.6" lengthAdjust="spacingAndGlyphs">29.0%</text>
<text x="1596.2" y="1125.0" textLength="45.7" lengthAdjust="spacingAndGlyphs">32507</text>
<text x="1598.4" y="1145.5" textLength="41.1" lengthAdjust="spacingAndGlyphs">1,512</text>
<text x="1596.2" y="1166.0" textLength="45.6" lengthAdjust="spacingAndGlyphs">21.2%</text>
<text x="1548.9" y="1188.9" textLength="45.7" lengthAdjust="spacingAndGlyphs">32508</text>
<text x="1562.6" y="1209.4" textLength="18.3" lengthAdjust="spacingAndGlyphs">18</text>
<text x="1553.5" y="1229.9" textLength="36.5" lengthAdjust="spacingAndGlyphs">5.6%</text>
<text x="1763.8" y="1183.1" textLength="45.7" lengthAdjust="spacingAndGlyphs">32561</text>
<text x="1772.9" y="1203.6" textLength="27.4" lengthAdjust="spacingAndGlyphs">143</text>
<text x="1768.4" y="1224.1" textLength="36.5" lengthAdjust="spacingAndGlyphs">7.5%</text>
<text x="1455.0" y="1125.6" textLength="45.7" lengthAdjust="spacingAndGlyphs">32506</text>
<text x="1457.2" y="1146.1" textLength="41.1" lengthAdjust="spacingAndGlyphs">2,024</text>
<text x="1455.0" y="1166.6" textLength="45.6" lengthAdjust="spacingAndGlyphs">23.0%</text>
  </g>

  <!-- logo -->
  <g font-weight="bold" stroke-linejoin="miter">
    <g fill="#8f9093" stroke="#8f9093" stroke-width="3.2" font-size="43.5">
      <text x="233.6" y="1352.6" textLength="48.5" lengthAdjust="spacingAndGlyphs">FL</text>
      <text x="321.6" y="1352.6" textLength="117" lengthAdjust="spacingAndGlyphs">RIDA</text>
    </g>
    <circle cx="299.6" cy="1336.9" r="18.9" fill="#24396f"/>
    <path d="M283.8,1330 L285.6,1326.9 L292.5,1325.6 L301.3,1325.6 L306.3,1323.8 L310.6,1323.5 L313.8,1331.3 L316.9,1340 L317.3,1345 L315,1347.8 L310.6,1346.3 L307.5,1341.9 L303.8,1336.9 L299.4,1332.8 L294.4,1330.3 L290,1329.8 L287.5,1331.9 L285.6,1332.8 Z" fill="#ffffff"/>
    <text x="174.5" y="1400" font-size="53" fill="#24396f" stroke="#24396f" stroke-width="4.2" textLength="286.5" lengthAdjust="spacingAndGlyphs">CHAMBER</text>
  </g>
  <text x="314" y="1426.3" font-size="25" font-style="italic" fill="#26335f" stroke="#26335f" stroke-width="0.4" textLength="146.6" lengthAdjust="spacingAndGlyphs">Foundation</text>
</svg>
</body>
</html>
